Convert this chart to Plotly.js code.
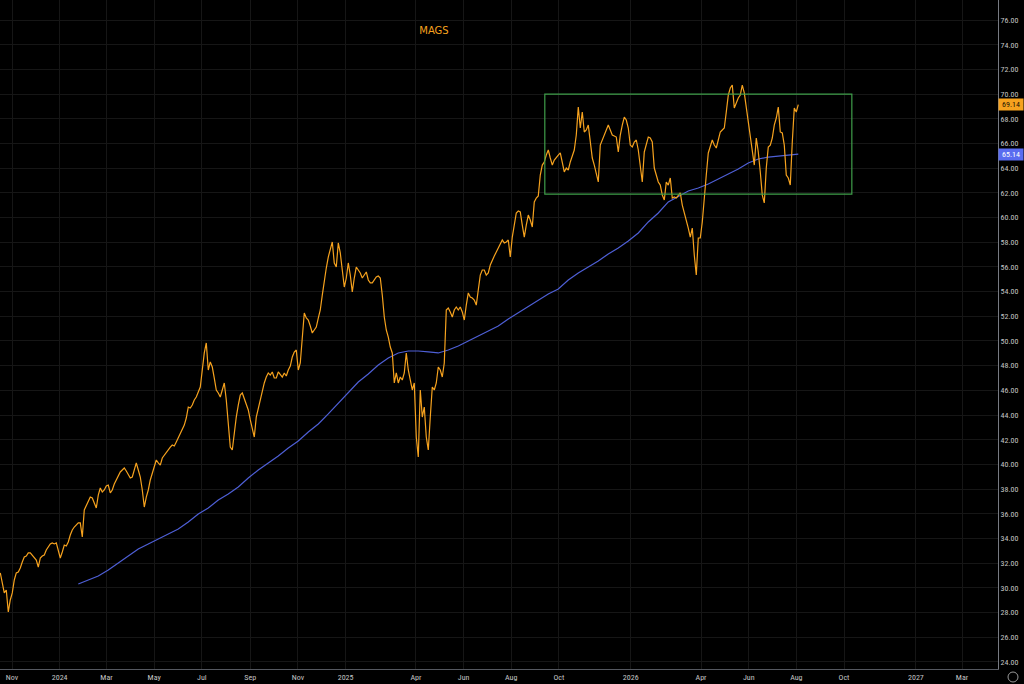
<!DOCTYPE html>
<html>
<head>
<meta charset="utf-8">
<script src="https://cdn.plot.ly/plotly-3.0.1.min.js"></script>
<style>
  html, body { margin: 0; padding: 0; background: #000; }
  #chart { width: 1024px; height: 684px; }
</style>
</head>
<body>
<div id="chart"></div>
<script>
// ---- DATA ----
const ticker = 'MAGS';
const startDate = Date.UTC(2023, 9, 17);   // first sample
const stepDays = 2.56;                      // sampling interval of the price series

const price = [
31.21,30.23,29.59,29.83,28.05,29.02,29.59,30.64,31.21,31.29,
31.61,32.10,32.50,32.58,32.83,32.83,32.66,32.50,32.26,31.69,
32.42,32.58,32.66,33.07,33.31,33.56,33.64,33.56,33.64,33.07,
32.42,32.91,33.47,33.39,33.72,34.28,34.69,34.93,35.09,35.26,
35.26,34.12,36.31,36.71,36.96,37.36,37.28,36.88,36.47,37.52,
38.09,37.77,37.93,38.25,38.33,37.69,37.93,38.42,38.74,39.06,
39.39,39.55,39.71,39.47,39.14,38.90,38.98,39.55,40.12,39.55,
38.98,37.93,36.55,37.36,37.93,38.74,39.31,39.87,40.36,40.12,
39.95,40.52,40.76,41.01,41.17,41.41,41.57,41.49,41.82,42.14,
42.55,42.79,43.19,43.76,44.65,44.57,44.81,45.22,45.46,45.87,
46.27,47.65,49.03,49.84,47.65,48.30,47.89,47.00,46.03,45.79,
45.46,46.03,46.60,45.22,43.60,41.41,41.17,42.63,43.84,44.81,
45.62,45.79,45.38,44.98,44.41,43.60,42.79,42.22,43.84,44.57,
45.06,45.79,46.60,47.08,47.41,47.24,47.49,47.00,47.00,47.49,
47.24,47.08,47.41,47.16,47.65,47.97,48.70,49.11,49.27,47.65,
48.22,50.48,52.27,51.86,51.70,51.21,50.65,50.89,51.13,51.86,
52.51,53.72,54.94,55.91,56.80,57.37,58.02,56.32,55.99,57.94,
57.13,55.75,54.37,55.10,56.32,55.34,53.97,55.10,55.99,55.75,
55.51,55.10,55.34,55.59,54.94,54.70,54.70,54.94,55.18,55.26,
55.10,53.72,51.94,50.89,50.32,49.51,49.03,46.60,47.41,46.60,
47.08,46.84,47.41,49.03,47.65,46.84,46.03,46.60,42.22,40.60,
46.03,43.84,44.65,42.22,41.17,43.84,46.27,46.03,46.60,47.89,
47.65,47.08,48.22,52.51,52.67,52.35,51.94,52.51,52.75,52.51,
52.75,52.35,51.70,52.91,53.89,53.56,53.48,53.32,52.91,54.13,
55.34,55.75,55.75,55.34,55.51,56.15,56.56,56.88,57.21,57.53,
57.94,58.18,57.94,58.02,58.18,56.80,58.42,59.39,60.37,60.53,
60.45,59.39,58.42,59.39,60.20,59.80,59.23,61.26,61.58,61.74,
63.44,64.25,64.50,65.06,65.47,64.82,64.25,64.66,64.82,65.06,
65.23,64.50,63.69,64.01,63.85,64.50,65.06,65.47,66.68,68.95,
67.25,68.55,66.93,67.09,67.49,66.12,64.82,64.25,63.44,62.88,
65.87,66.28,66.68,67.09,67.49,67.09,66.68,66.60,66.52,65.31,
66.68,67.49,68.14,67.90,67.25,65.87,65.71,66.12,66.28,65.47,
64.01,62.88,65.31,66.04,66.52,66.44,66.12,64.01,63.44,62.88,
62.63,61.82,61.42,62.88,62.63,63.20,61.58,61.66,61.58,61.82,
61.99,61.01,60.45,59.80,59.15,58.42,59.15,56.96,55.34,58.34,
58.34,59.64,61.26,63.44,65.23,65.87,66.28,65.87,65.63,66.28,
66.93,67.09,67.25,68.55,69.92,70.49,70.73,68.87,69.36,69.68,
69.92,70.73,70.09,68.95,67.49,66.52,65.63,64.25,66.44,65.31,
63.69,61.82,61.18,64.01,65.71,65.87,66.44,67.49,68.06,68.95,
66.93,66.85,65.87,63.44,63.20,62.63,66.12,68.87,68.55,69.14
];

// 200-day moving average, sampled every 5th price sample starting at sample 39
const maFirstSample = 39;
const maEvery = 5;
const ma200 = [
30.32,30.64,30.96,31.45,32.02,32.58,33.15,33.56,33.96,34.37,
34.77,35.34,35.99,36.47,37.12,37.61,38.17,38.90,39.55,40.12,
40.68,41.33,41.90,42.63,43.28,44.09,44.98,45.87,46.68,47.33,
48.05,48.62,49.03,49.19,49.19,49.11,49.03,49.27,49.59,50.00,
50.40,50.81,51.21,51.78,52.27,52.83,53.32,53.81,54.21,54.94,
55.51,55.99,56.48,57.05,57.53,58.10,58.75,59.64,60.37,61.26,
61.74,62.15,62.39,62.72,63.12,63.53,63.93,64.42,64.74,64.90,
64.98,65.06,65.14
];

// consolidation box
const boxStart = '2025-09-13';
const boxEnd = '2026-10-11';
const boxHigh = 70.0;
const boxLow = 61.9;

// x-axis tick labels
const xTickVals = ['2023-11-01','2024-01-01','2024-03-01','2024-05-01','2024-07-01','2024-09-01',
  '2024-11-01','2025-01-01','2025-04-01','2025-06-01','2025-08-01','2025-10-01',
  '2026-01-01','2026-04-01','2026-06-01','2026-08-01','2026-10-01','2027-01-01','2027-03-01'];
const xTickText = ['Nov','2024','Mar','May','Jul','Sep','Nov','2025','Apr','Jun','Aug','Oct',
  '2026','Apr','Jun','Aug','Oct','2027','Mar'];

// ---- BUILD ----
function fmt(ms) { return new Date(ms).toISOString().slice(0, 19).replace('T', ' '); }
const dates = price.map((_, i) => fmt(startDate + i * stepDays * 864e5));
const maDates = ma200.map((_, j) => dates[maFirstSample + maEvery * j]);

const orange = '#f6a21e';
const blue = '#4e5fd6';
const tickFont = { family: 'Liberation Sans Narrow, Roboto Condensed, Roboto, sans-serif', size: 8, color: '#c4c4c4' };

const lastPrice = price[price.length - 1];
const lastMA = ma200[ma200.length - 1];

const traces = [
  { x: maDates, y: ma200, type: 'scatter', mode: 'lines', line: { color: blue, width: 1.2 }, hoverinfo: 'skip' },
  { x: dates, y: price, type: 'scatter', mode: 'lines', line: { color: orange, width: 1.2 }, hoverinfo: 'skip' }
];

const layout = {
  width: 1024, height: 684,
  paper_bgcolor: '#000', plot_bgcolor: '#000',
  margin: { l: 0, r: 26, t: 0, b: 15, pad: 0 },
  showlegend: false,
  title: { text: ticker, x: 434 / 1024, y: 1 - 30 / 684, xanchor: 'center', yanchor: 'middle',
           font: { family: 'DejaVu Sans, sans-serif', size: 10, color: orange } },
  xaxis: {
    type: 'date',
    range: ['2023-10-16 15:22', '2027-04-16 02:00'],
    tickmode: 'array', tickvals: xTickVals, ticktext: xTickText,
    showgrid: true, gridcolor: '#161616', gridwidth: 1,
    showline: true, linecolor: '#555860', linewidth: 1,
    ticks: '', tickfont: tickFont, zeroline: false, fixedrange: true
  },
  yaxis: {
    side: 'right',
    range: [23.43, 77.62],
    tickmode: 'linear', tick0: 24, dtick: 2, tickformat: '.2f',
    showgrid: true, gridcolor: '#161616', gridwidth: 1,
    showline: true, linecolor: '#777a82', linewidth: 1,
    ticks: '', tickfont: tickFont, zeroline: false, fixedrange: true
  },
  shapes: [
    { type: 'rect', xref: 'x', yref: 'y', x0: boxStart, x1: boxEnd, y0: boxLow, y1: boxHigh,
      line: { color: '#3f9e4a', width: 1.2 }, fillcolor: 'rgba(0,0,0,0)' },
    { type: 'circle', xref: 'paper', yref: 'paper', x0: 1008 / 998, x1: 1018 / 998, y0: -13 / 669, y1: -3 / 669,
      line: { color: '#9a9a9a', width: 1 } }
  ],
  annotations: [
    { xref: 'paper', x: 1, xanchor: 'left', yref: 'y', y: lastPrice, yanchor: 'middle',
      text: lastPrice.toFixed(2), showarrow: false, bgcolor: orange, width: 22, borderpad: 1,
      font: { family: tickFont.family, size: 8, color: '#1a1205' } },
    { xref: 'paper', x: 1, xanchor: 'left', yref: 'y', y: lastMA, yanchor: 'middle',
      text: lastMA.toFixed(2), showarrow: false, bgcolor: '#5a6cf0', width: 22, borderpad: 1,
      font: { family: tickFont.family, size: 8, color: '#ffffff' } }
  ]
};

Plotly.newPlot('chart', traces, layout, { staticPlot: true, displayModeBar: false });
</script>
</body>
</html>
